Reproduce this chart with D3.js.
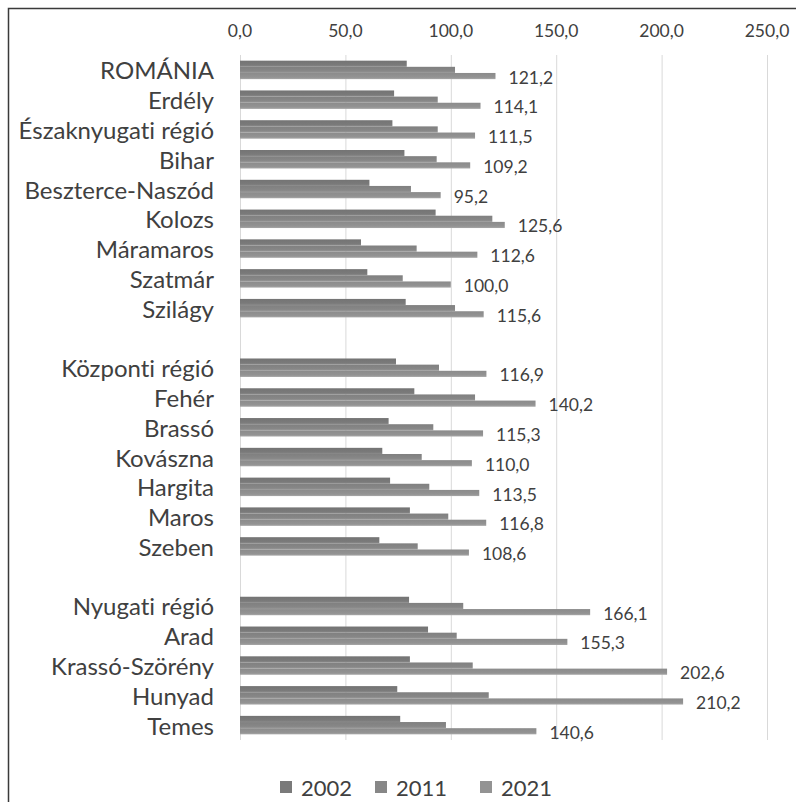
<!DOCTYPE html>
<html>
<head>
<meta charset="utf-8">
<script src="https://cdn.jsdelivr.net/npm/d3@7"></script>
<style>
  html, body { margin: 0; padding: 0; background: #fff; }
  svg { display: block; font-family: Lato, "Open Sans", sans-serif; font-variant-ligatures: none; }
</style>
</head>
<body>
<div id="chart"></div>
<script>
// Régiók és megyék, három népszámlálási év (a null sorok üres elválasztók)
const categories = ["ROMÁNIA", "Erdély", "Északnyugati régió", "Bihar", "Beszterce-Naszód", "Kolozs",
  "Máramaros", "Szatmár", "Szilágy", null, "Központi régió", "Fehér", "Brassó", "Kovászna",
  "Hargita", "Maros", "Szeben", null, "Nyugati régió", "Arad", "Krassó-Szörény", "Hunyad", "Temes"]
const years = ["2002", "2011", "2021"]
const v2002 = [79.1, 73.1, 72.3, 78.0, 61.4, 92.8, 57.4, 60.4, 78.6, null, 74.0, 82.7, 70.5, 67.5,
  71.2, 80.6, 66.1, null, 80.2, 89.2, 80.6, 74.6, 76.0]
const v2011 = [102.0, 93.8, 93.8, 93.3, 81.1, 119.7, 83.8, 77.2, 102.0, null, 94.4, 111.5, 91.7, 86.2,
  89.8, 98.8, 84.3, null, 105.9, 102.8, 110.4, 118.0, 97.7]
const v2021 = [121.2, 114.1, 111.5, 109.2, 95.2, 125.6, 112.6, 100.0, 115.6, null, 116.9, 140.2, 115.3, 110.0,
  113.5, 116.8, 108.6, null, 166.1, 155.3, 202.6, 210.2, 140.6]
const xTicks = [0, 50, 100, 150, 200, 250]

const series = [v2002, v2011, v2021]
const colors = ["#7a7a7a", "#878787", "#939393"]
const textColor = "#404040"

const W = 796, H = 802
const fmt = (v) => d3.format(".1f")(v).replace(".", ",")

const svg = d3.select("#chart").append("svg")
  .attr("width", W).attr("height", H)

// keret (jobb és alsó széle kilóg a képből)
svg.append("rect")
  .attr("x", 8.5).attr("y", 8.5).attr("width", 820).attr("height", 820)
  .attr("fill", "#fff").attr("stroke", "#3a3a3a").attr("stroke-width", 1.5)

const x = d3.scaleLinear().domain([0, 250]).range([240, 767])
const y = d3.scaleBand()
  .domain(categories.map((_, i) => i))
  .range([55, 740])
  .paddingInner(0.38).paddingOuter(0.19)
const ySub = d3.scaleBand().domain(years).range([0, y.bandwidth()])

// rács
svg.append("g")
  .selectAll("line")
  .data(xTicks)
  .join("line")
  .attr("x1", (d) => x(d) + 0.5).attr("x2", (d) => x(d) + 0.5)
  .attr("y1", 55).attr("y2", 740)
  .attr("stroke", "#d9d9d9").attr("stroke-width", 1)

// tengelyfeliratok felül
svg.append("g")
  .selectAll("text")
  .data(xTicks)
  .join("text")
  .attr("x", (d) => x(d))
  .attr("y", 30)
  .attr("text-anchor", "middle")
  .attr("dominant-baseline", "central")
  .attr("fill", textColor)
  .attr("font-size", 17.5)
  .text((d) => fmt(d))

// oszlopok gradienssel
const defs = svg.append("defs")
colors.forEach((c, i) => {
  const gr = defs.append("linearGradient").attr("id", `g${i}`)
    .attr("x1", 0).attr("x2", 0).attr("y1", 0).attr("y2", 1)
  gr.append("stop").attr("offset", "0%").attr("stop-color", d3.color(c).darker(0.15))
  gr.append("stop").attr("offset", "70%").attr("stop-color", c)
  gr.append("stop").attr("offset", "100%").attr("stop-color", d3.color(c).brighter(0.35))
})

years.forEach((yr, si) => {
  svg.append("g")
    .selectAll("rect")
    .data(series[si].map((v, i) => ({ v, i })).filter((d) => d.v != null))
    .join("rect")
    .attr("x", x(0))
    .attr("y", (d) => y(d.i) + ySub(yr))
    .attr("width", (d) => x(d.v) - x(0))
    .attr("height", ySub.bandwidth())
    .attr("fill", `url(#g${si})`)
})

// adatfeliratok (csak 2021)
svg.append("g")
  .selectAll("text")
  .data(v2021.map((v, i) => ({ v, i })).filter((d) => d.v != null))
  .join("text")
  .attr("x", (d) => x(d.v) + 13)
  .attr("y", (d) => y(d.i) + ySub("2021") + ySub.bandwidth() / 2 + 1)
  .attr("dominant-baseline", "central")
  .attr("fill", textColor)
  .attr("font-size", 17.5)
  .text((d) => fmt(d.v))

// kategórianevek
svg.append("g")
  .selectAll("text")
  .data(categories.map((c, i) => ({ c, i })).filter((d) => d.c != null))
  .join("text")
  .attr("x", 214)
  .attr("y", (d) => y(d.i) + y.bandwidth() / 2)
  .attr("text-anchor", "end")
  .attr("dominant-baseline", "central")
  .attr("fill", textColor)
  .attr("font-size", 24)
  .text((d) => d.c)

// jelmagyarázat
const legendX = [280, 375, 480]
const lg = svg.append("g")
years.forEach((yr, i) => {
  lg.append("rect")
    .attr("x", legendX[i]).attr("y", 781)
    .attr("width", 12).attr("height", 12)
    .attr("fill", colors[i])
  lg.append("text")
    .attr("x", legendX[i] + 21).attr("y", 787)
    .attr("dominant-baseline", "central")
    .attr("fill", textColor)
    .attr("font-size", 22)
    .text(yr)
})
</script>
</body>
</html>
